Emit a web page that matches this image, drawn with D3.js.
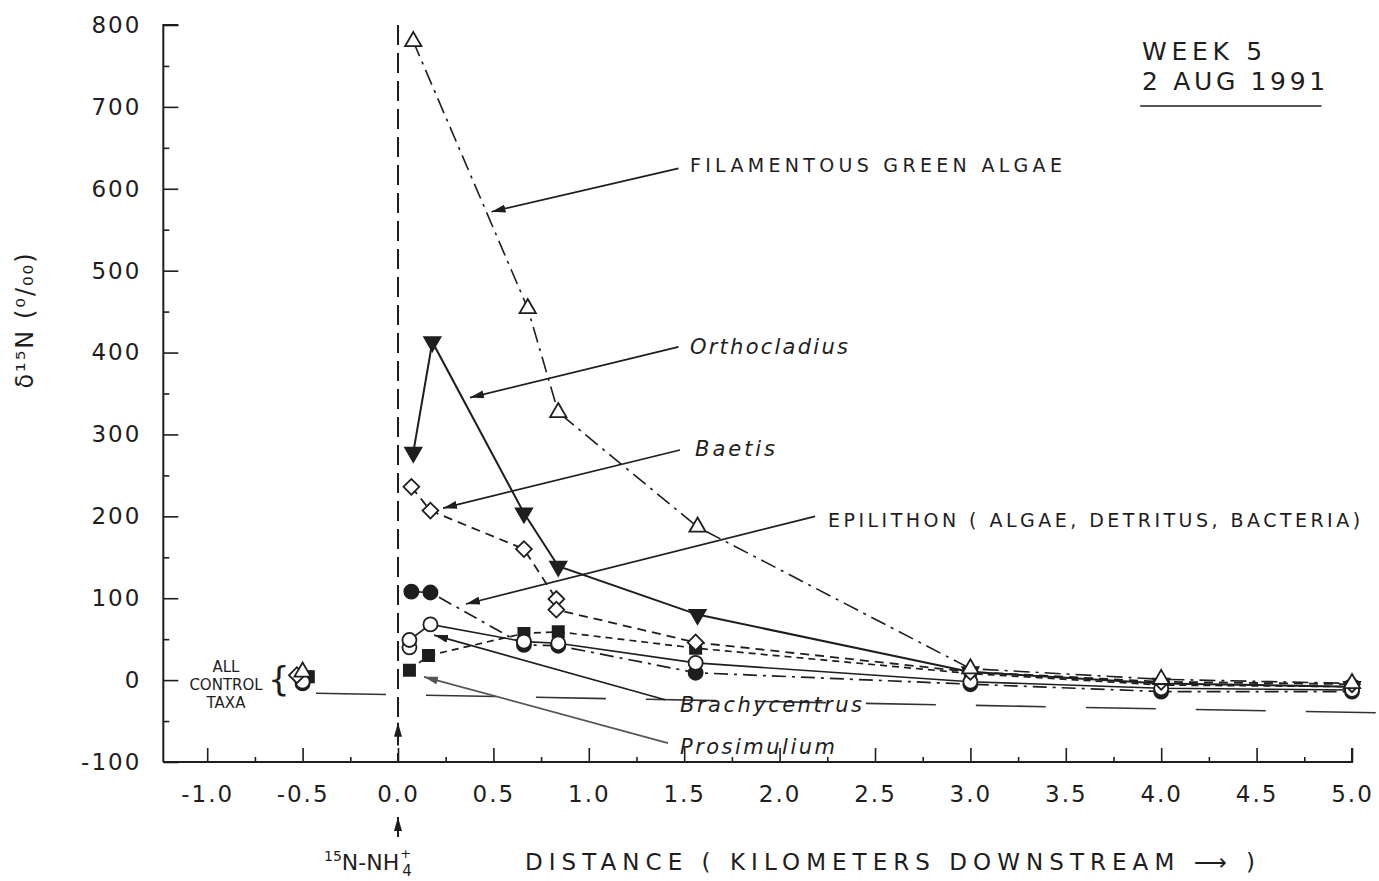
<!DOCTYPE html>
<html><head><meta charset="utf-8">
<script src="https://cdn.jsdelivr.net/npm/d3@7"></script>
<style>body{margin:0;background:#fff}</style>
</head><body><svg id="c" width="1379" height="881"></svg>
<script>
// ---------- data ----------
const xTicks = [-1.0,-0.5,0.0,0.5,1.0,1.5,2.0,2.5,3.0,3.5,4.0,4.5,5.0];
const xMinor = [-0.75,-0.25,0.25,0.75,1.25,1.75,2.25,2.75,3.25,3.75,4.25,4.75];
const yTicks = [-100,0,100,200,300,400,500,600,700,800];
const yMinor = [-50,50,150,250,350,450,550,650,750];

const seriesNames = ["FILAMENTOUS GREEN ALGAE","Orthocladius","Baetis","EPILITHON","Brachycentrus","Prosimulium"];

const algaeX  = [0.08, 0.68, 0.84, 1.57, 3.0, 4.0, 5.0];
const algaeY  = [780, 454, 327, 187, 14, 1, -4];
const orthoX  = [0.08, 0.18, 0.66, 0.84, 1.57, 3.0, 4.0, 5.0];
const orthoY  = [278, 413, 204, 139, 80, 10, -4, -8];
const baetisX = [0.07, 0.17, 0.66, 0.83, 0.83, 1.56, 3.0, 4.0, 5.0];
const baetisY = [236, 207, 160, 99, 86, 46, 10, -2, -5];
const epiX    = [0.07, 0.17, 0.66, 0.84, 1.56, 3.0, 4.0, 5.0];
const epiY    = [108, 107, 43, 42, 9, -5, -14, -14];
const brachyX = [0.06, 0.06, 0.17, 0.66, 0.84, 1.56, 3.0, 4.0, 5.0];
const brachyY = [40, 49, 68, 47, 45, 21, -2, -10, -12];
const prosX   = [0.06, 0.16, 0.66, 0.84, 1.56, 3.0, 4.0, 5.0];
const prosY   = [12, 30, 57, 59, 39, 8, -6, -8];

// control taxa (upstream of release)
const controlX = [-0.5, -0.5, -0.53, -0.5, -0.5, -0.47];
const controlY = [10, 5, 6, -4, -2, 4];

// long-dash control reference line
const refX = [-0.43, 5.14];
const refY = [-16, -40];

// ---------- layout ----------
const svg = d3.select("#c");
const FONT = "'DejaVu Sans', sans-serif";
const INK = "#1e1e1e";
const x = d3.scaleLinear().domain([0, 5]).range([398, 1352]);
const y = d3.scaleLinear().domain([-100, 800]).range([762, 25]);
const xLeft = x(-1.23);
const fmtX = d => d.toFixed(1).replace("\u2212","-");
const fmtY = d => String(d).replace("\u2212","-");

const defs = svg.append("defs");
[["arr",INK],["arrG","#555"]].forEach(([id,c]) => {
  defs.append("marker").attr("id",id).attr("viewBox","0 0 14 8")
    .attr("refX",14).attr("refY",4).attr("markerWidth",14).attr("markerHeight",8)
    .attr("markerUnits","userSpaceOnUse").attr("orient","auto")
    .append("path").attr("d","M0,0 L14,4 L0,8 z").attr("fill",c);
});

// ---------- axes ----------
const gx = svg.append("g").attr("transform",`translate(0,${y(-100)})`);
gx.call(d3.axisBottom(x).tickValues(xTicks).tickSize(-14).tickPadding(24).tickFormat(fmtX));
gx.select(".domain").remove();
gx.append("path").attr("d",`M${xLeft},0H${x(5)}V-14`).attr("stroke",INK).attr("stroke-width",2).attr("fill","none");
const gx2 = svg.append("g").attr("transform",`translate(0,${y(-100)})`);
gx2.call(d3.axisBottom(x).tickValues(xMinor).tickSize(-5).tickFormat(""));
gx2.select(".domain").remove();

const gy = svg.append("g").attr("transform",`translate(${xLeft},0)`);
gy.call(d3.axisLeft(y).tickValues(yTicks).tickSize(-15).tickPadding(22).tickFormat(fmtY));
gy.select(".domain").remove();
gy.append("path").attr("d",`M15,${y(800)}H0V${y(-100)}`).attr("stroke",INK).attr("stroke-width",2).attr("fill","none");
const gy2 = svg.append("g").attr("transform",`translate(${xLeft},0)`);
gy2.call(d3.axisLeft(y).tickValues(yMinor).tickSize(-6).tickFormat(""));
gy2.select(".domain").remove();

svg.selectAll(".tick line").attr("stroke",INK).attr("stroke-width",1.6);
svg.selectAll(".tick text").attr("font-family",FONT).attr("font-size",23)
  .attr("fill",INK).attr("letter-spacing",2);

// axis titles
svg.append("text").attr("transform",`translate(33,320) rotate(-90)`)
  .attr("text-anchor","middle").attr("font-family",FONT).attr("font-size",24).attr("fill",INK)
  .attr("letter-spacing",2)
  .text("δ¹⁵N (⁰/₀₀)");

svg.append("text").attr("x",525).attr("y",870).attr("font-family",FONT).attr("font-size",23)
  .attr("fill",INK).attr("textLength",730).attr("lengthAdjust","spacing")
  .text("DISTANCE ( KILOMETERS DOWNSTREAM ⟶ )");

const nh = svg.append("text").attr("x",324).attr("y",870).attr("font-family",FONT)
  .attr("font-size",22).attr("fill",INK);
nh.append("tspan").attr("font-size",14).attr("dy",-9).text("15");
nh.append("tspan").attr("dy",9).text("N-NH");
nh.append("tspan").attr("font-size",13).attr("dy",-12).attr("dx",1).text("+");
nh.append("tspan").attr("font-size",15).attr("dy",18).attr("dx",-9).text("4");

// vertical release line at 0
svg.append("line").attr("x1",x(0)).attr("x2",x(0)).attr("y1",y(800)).attr("y2",y(-100))
  .attr("stroke",INK).attr("stroke-width",2).attr("stroke-dasharray","20,8");
svg.append("line").attr("x1",x(0)).attr("x2",x(0)).attr("y1",y(-80)).attr("y2",y(-52))
  .attr("stroke",INK).attr("stroke-width",2).attr("marker-end","url(#arr)");
svg.append("line").attr("x1",x(0)).attr("x2",x(0)).attr("y1",837).attr("y2",817)
  .attr("stroke",INK).attr("stroke-width",2).attr("marker-end","url(#arr)");

// control reference long-dash line
svg.append("line").attr("x1",x(refX[0])).attr("y1",y(refY[0])).attr("x2",x(refX[1])).attr("y2",y(refY[1]))
  .attr("stroke","#333").attr("stroke-width",1.6).attr("stroke-dasharray","70,40");

// ---------- series ----------
const tri = d3.symbol().type(d3.symbolTriangle).size(115)();
const sq  = d3.symbol().type(d3.symbolSquare).size(125)();
const cir = d3.symbol().type(d3.symbolCircle).size(155)();
const series = [
  {xs: algaeX,  ys: algaeY,  dash:"16,6,3,6", w:1.6, path: tri, rot:0,   fill:"#fff"},
  {xs: orthoX,  ys: orthoY,  dash:null,       w:2.0, path: tri, rot:180, fill:INK},
  {xs: baetisX, ys: baetisY, dash:"9,6",      w:1.8, path: sq,  rot:45,  fill:"#fff"},
  {xs: epiX,    ys: epiY,    dash:"14,6,3,6", w:1.7, path: cir, rot:0,   fill:INK},
  {xs: brachyX, ys: brachyY, dash:null,       w:1.6, path: cir, rot:0,   fill:"#fff"},
  {xs: prosX,   ys: prosY,   dash:"7,5",      w:1.7, path: sq,  rot:0,   fill:INK},
];
const line = d3.line().x(d => x(d[0])).y(d => y(d[1]));
series.forEach(s => {
  const pts = s.xs.map((v,i) => [v, s.ys[i]]);
  svg.append("path").attr("d", line(pts)).attr("fill","none").attr("stroke",INK)
    .attr("stroke-width", s.w).attr("stroke-dasharray", s.dash);
});
const drawOrder = [3,5,1,4,2,0];
drawOrder.forEach(k => {
  const s = series[k];
  const pts = s.xs.map((v,i) => [v, s.ys[i]]);
  pts.push([controlX[k], controlY[k]]);
  svg.append("g").selectAll("path").data(pts).join("path")
    .attr("d", s.path)
    .attr("transform", d => `translate(${x(d[0])},${y(d[1])}) rotate(${s.rot})`)
    .attr("fill", s.fill).attr("stroke", INK).attr("stroke-width", 1.8);
});

// control taxa label
const ct = svg.append("g").attr("font-family",FONT).attr("font-size",15).attr("fill",INK).attr("text-anchor","middle");
["ALL","CONTROL","TAXA"].forEach((t,i) => ct.append("text").attr("x",226).attr("y",y(0)-8+i*18).text(t));
svg.append("text").attr("x",268).attr("y",y(0)+11).attr("font-family",FONT).attr("font-size",34)
  .attr("fill",INK).text("{");

// ---------- annotations ----------
const notes = [
  {t:"FILAMENTOUS GREEN ALGAE", fx:1.47, fy:625, tx:0.49, ty:572, lx:1.53, ly:620, it:false, len:372, g:false},
  {t:"Orthocladius", fx:1.47, fy:407, tx:0.377, ty:345, lx:1.53, ly:398, it:true, len:158, g:false},
  {t:"Baetis", fx:1.478, fy:281, tx:0.236, ty:210, lx:1.557, ly:274, it:true, len:80, g:false},
  {t:"EPILITHON ( ALGAE, DETRITUS, BACTERIA)", fx:2.186, fy:200, tx:0.356, ty:93, lx:2.254, ly:187, it:false, len:532, g:false},
  {t:"Brachycentrus", fx:1.40, fy:-24, tx:0.189, ty:55, lx:1.478, ly:-39, it:true, len:182, g:false},
  {t:"Prosimulium", fx:1.415, fy:-77, tx:0.136, ty:4, lx:1.478, ly:-90, it:true, len:155, g:true},
];
notes.forEach(n => {
  svg.append("line").attr("x1",x(n.fx)).attr("y1",y(n.fy)).attr("x2",x(n.tx)).attr("y2",y(n.ty))
    .attr("stroke", n.g ? "#555" : INK).attr("stroke-width",1.7)
    .attr("marker-end", n.g ? "url(#arrG)" : "url(#arr)");
  svg.append("text").attr("x",x(n.lx)).attr("y",y(n.ly)).attr("font-family",FONT)
    .attr("font-size", n.it ? 21 : 19).attr("font-style", n.it ? "italic" : "normal")
    .attr("fill",INK).attr("textLength",n.len).attr("lengthAdjust","spacing").text(n.t);
});

// title block
const tb = svg.append("g").attr("font-family",FONT).attr("font-size",25).attr("fill",INK);
tb.append("text").attr("x",x(3.9)).attr("y",y(757)).attr("textLength",120).attr("lengthAdjust","spacing").text("WEEK 5");
tb.append("text").attr("x",x(3.9)).attr("y",y(721)).attr("textLength",183).attr("lengthAdjust","spacing").text("2 AUG 1991");
svg.append("line").attr("x1",x(3.89)).attr("x2",x(4.84)).attr("y1",y(701)).attr("y2",y(701))
  .attr("stroke",INK).attr("stroke-width",1.6);
</script></body></html>
